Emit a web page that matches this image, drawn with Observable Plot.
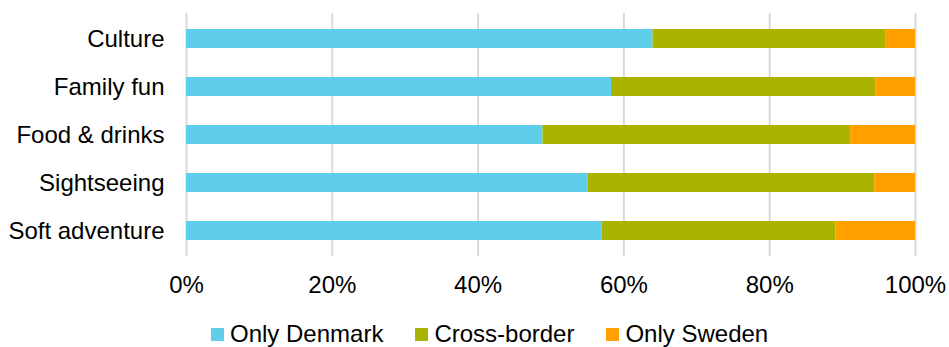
<!DOCTYPE html>
<html>
<head>
<meta charset="utf-8">
<script src="https://cdn.jsdelivr.net/npm/d3@7"></script>
<script src="https://cdn.jsdelivr.net/npm/@observablehq/plot@0.6"></script>
<style>
  html, body { margin: 0; padding: 0; background: #fff; }
  #wrap { position: relative; width: 949px; height: 347px; font-family: "Liberation Sans", Arial, sans-serif; }
  #legend { position: absolute; left: 211px; top: 322px; display: flex; align-items: center; font-size: 24px; color: #000; line-height: 1; }
  .item { display: flex; align-items: center; margin-right: 32px; }
  .sw { width: 13px; height: 13px; margin-right: 6px; }
</style>
</head>
<body>
<div id="wrap"></div>
<script>
const categories = ["Culture", "Family fun", "Food & drinks", "Sightseeing", "Soft adventure"];
const seriesNames = ["Only Denmark", "Cross-border", "Only Sweden"];
const seriesColors = ["#5ECEEA", "#AAB400", "#FFA000"];
const onlyDenmark = [64.0, 58.3, 48.9, 55.1, 57.0];
const crossBorder = [31.9, 36.3, 42.2, 39.3, 32.1];
const onlySweden = [4.1, 5.4, 8.9, 5.6, 10.9];
const xTicks = [0, 20, 40, 60, 80, 100];

const seriesValues = [onlyDenmark, crossBorder, onlySweden];
const rows = [];
seriesNames.forEach((s, i) => {
  categories.forEach((c, j) => rows.push({category: c, series: s, value: seriesValues[i][j]}));
});

const chart = Plot.plot({
  width: 949,
  height: 312,
  marginLeft: 186,
  marginRight: 34,
  marginTop: 13,
  marginBottom: 56,
  style: {fontFamily: "'Liberation Sans', Arial, sans-serif", fontSize: "24px", color: "#000", background: "#fff"},
  x: {domain: [0, 100]},
  y: {domain: categories, paddingInner: 0.61, paddingOuter: 0.3},
  color: {domain: seriesNames, range: seriesColors},
  marks: [
    Plot.gridX(xTicks, {stroke: "#d9d9d9", strokeOpacity: 1, strokeWidth: 2}),
    Plot.barX(rows, Plot.stackX({y: "category", x: "value", fill: "series", order: seriesNames})),
    Plot.axisX({ticks: xTicks, tickSize: 0, tickPadding: 19, tickFormat: d => d + "%", label: null, fontSize: 24}),
    Plot.axisY({tickSize: 0, tickPadding: 22, label: null, fontSize: 24})
  ]
});
const wrap = document.getElementById("wrap");
wrap.appendChild(chart);

const legend = document.createElement("div");
legend.id = "legend";
seriesNames.forEach((s, i) => {
  const item = document.createElement("div");
  item.className = "item";
  const sw = document.createElement("span");
  sw.className = "sw";
  sw.style.background = seriesColors[i];
  const t = document.createElement("span");
  t.textContent = s;
  item.appendChild(sw);
  item.appendChild(t);
  legend.appendChild(item);
});
wrap.appendChild(legend);
</script>
</body>
</html>
